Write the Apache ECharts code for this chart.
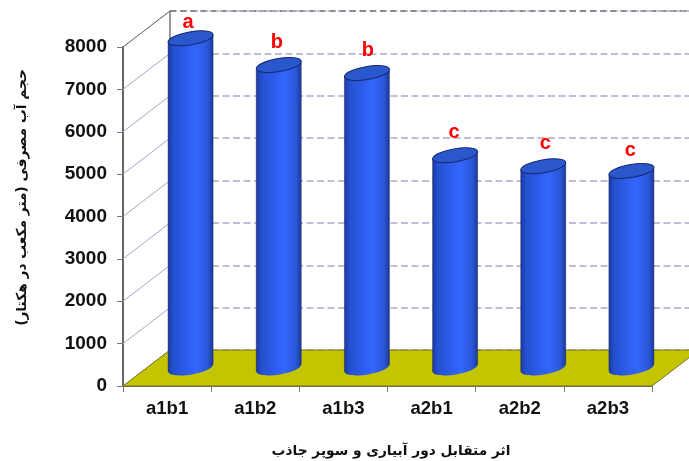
<!DOCTYPE html>
<html><head><meta charset="utf-8">
<style>html,body{margin:0;padding:0;background:#fff;overflow:hidden}#c{width:689px;height:461px}</style>
<script src="https://cdn.jsdelivr.net/npm/echarts@6/dist/echarts.min.js"></script></head>
<body><div id="c"></div>
<script>
const categories = ['a1b1','a1b2','a1b3','a2b1','a2b2','a2b3'];
const waterVolume = [7780,7150,6960,5020,4760,4650];
const letters = ['a','b','b','c','c','c'];
const yTicks = [0,1000,2000,3000,4000,5000,6000,7000,8000];
const yTitle = 'حجم آب مصرفی (متر مکعب در هکتار)';
const xTitle = 'اثر متقابل دور آبیاری و سوپر جاذب';

const DX = 47, DY = -36;
const FONT = '"Liberation Sans", Arial, sans-serif';
const TITLEFONT = '"DejaVu Sans", sans-serif';
const chart = echarts.init(document.getElementById('c'), null, {renderer:'canvas'});

const barGrad = () => new echarts.graphic.LinearGradient(0,0,1,0,[
  {offset:0,color:'#1c3a9c'},{offset:0.12,color:'#2550d0'},{offset:0.62,color:'#3366ff'},
  {offset:0.88,color:'#2a56d8'},{offset:1,color:'#1c3a98'}]);

function cylinder(params, api){
  const i = api.value(0), v = api.value(1);
  const top = api.coord([i, v]), base = api.coord([i, 0]);
  const cx = top[0] + DX/2, ty = top[1] + DY/2, by = base[1] + DY/2;
  const hw = 22.5, sl = 3.5, a = 22.8, b = 6.5, rot = 9.7*Math.PI/180;
  const liftY = [16,23,23,23,23,20][i], nudgeX = [-2.5,-2,1,-1,2,-1][i];
  return {type:'group', children:[
    {type:'ellipse', x:cx, y:by, rotation:rot, shape:{cx:0,cy:0,rx:a,ry:b},
      style:{fill:barGrad()}},
    {type:'polygon', shape:{points:[[cx-hw,ty+sl],[cx+hw,ty-sl],[cx+hw,by-sl],[cx-hw,by+sl]]},
      style:{fill:barGrad()}},
    {type:'line', shape:{x1:cx-hw,y1:ty+sl,x2:cx-hw,y2:by+sl}, style:{stroke:'rgba(20,30,90,.45)',lineWidth:1}},
    {type:'line', shape:{x1:cx+hw,y1:ty-sl,x2:cx+hw,y2:by-sl}, style:{stroke:'rgba(20,30,90,.45)',lineWidth:1}},
    {type:'ellipse', x:cx, y:ty, rotation:rot, shape:{cx:0,cy:0,rx:a,ry:b},
      style:{fill:'#2a58cc',stroke:'#14286e',lineWidth:1}},
    {type:'text', x:cx+nudgeX, y:ty-liftY, style:{text:letters[i],fill:'#ff0000',
      font:'bold 20px '+FONT,textAlign:'center',textVerticalAlign:'middle'}}
  ]};
}
function floor(params, api){
  const a = api.coord([0,0]);
  const w = api.size([1,0])[0]*categories.length;
  const x0 = a[0]-api.size([1,0])[0]/2, y0 = a[1];
  return {type:'polygon', shape:{points:[[x0,y0],[x0+DX,y0+DY],[x0+w+DX,y0+DY],[x0+w,y0]]},
    style:{fill:'#c4c400',stroke:'#77772a',lineWidth:1}};
}
function sideLine(params, api){
  const v = api.value(0);
  const p = api.coord([0,v]);
  const x0 = p[0]-api.size([1,0])[0]/2;
  const isTop = v === yTicks[yTicks.length-1];
  return {type:'line', shape:{x1:x0,y1:p[1],x2:x0+DX,y2:p[1]+DY},
    style:{stroke:isTop?'#555':'#a9a5cc',lineWidth:1}};
}
function backEdge(params, api){
  const p = api.coord([0,yTicks[yTicks.length-1]]), q = api.coord([0,0]);
  const x0 = p[0]-api.size([1,0])[0]/2+DX;
  const w = api.size([1,0])[0]*categories.length;
  return {type:'group',children:[
    {type:'line',shape:{x1:x0,y1:p[1]+DY,x2:x0,y2:q[1]+DY},style:{stroke:'#777',lineWidth:1.5}},
    {type:'line',shape:{x1:x0,y1:p[1]+DY,x2:x0+w,y2:p[1]+DY},style:{stroke:'#555',lineWidth:1,lineDash:[6,4]}}
  ]};
}

chart.setOption({
  animation:false,
  backgroundColor:'#fff',
  grid:[{left:123,top:47,width:529,height:339,outerBoundsMode:'none'},
        {left:123+DX,top:47+DY,width:529,height:339,outerBoundsMode:'none'}],
  xAxis:[
    {type:'category',data:categories,gridIndex:0,boundaryGap:true,
     axisLine:{lineStyle:{color:'#666',width:2}},
     axisTick:{show:true,length:6,alignWithLabel:false,lineStyle:{color:'#777',width:1}},
     axisLabel:{color:'#111',fontFamily:FONT,fontWeight:'bold',fontSize:18.5,margin:13,interval:0},
     name:xTitle,nameLocation:'middle',nameGap:58,
     nameTextStyle:{color:'#111',fontFamily:TITLEFONT,fontWeight:'bold',fontSize:13.75,padding:[0,0,0,7]}},
    {type:'category',data:categories,gridIndex:1,show:false}
  ],
  yAxis:[
    {type:'value',min:0,max:8000,interval:1000,gridIndex:0,
     axisLine:{show:true,lineStyle:{color:'#666',width:2}},
     axisTick:{show:true,length:6,lineStyle:{color:'#777',width:1}},
     splitLine:{show:false},
     axisLabel:{color:'#111',fontFamily:FONT,fontWeight:'bold',fontSize:19,margin:16,formatter:v=>String(v)},
     name:yTitle,nameLocation:'middle',nameGap:94,nameRotate:90,
     nameTextStyle:{color:'#111',fontFamily:TITLEFONT,fontWeight:'bold',fontSize:13.75,padding:[0,0,0,38]}},
    {type:'value',min:0,max:8000,interval:1000,gridIndex:1,
     axisLine:{show:false},axisTick:{show:false},axisLabel:{show:false},
     splitLine:{show:true,lineStyle:{color:'#aaa8cc',width:1.5,type:[7,3.5]}}}
  ],
  series:[
    {type:'custom',name:'edges',coordinateSystem:'cartesian2d',xAxisIndex:0,yAxisIndex:0,clip:false,z:1,
     data:[[0]],renderItem:backEdge,silent:true},
    {type:'custom',name:'side',coordinateSystem:'cartesian2d',xAxisIndex:0,yAxisIndex:0,clip:false,z:1,
     data:yTicks.map(v=>[v]),encode:{y:0},renderItem:sideLine,silent:true},
    {type:'custom',name:'floor',coordinateSystem:'cartesian2d',xAxisIndex:0,yAxisIndex:0,clip:false,z:2,
     data:[[0]],renderItem:floor,silent:true},
    {type:'custom',name:'volume',coordinateSystem:'cartesian2d',xAxisIndex:0,yAxisIndex:0,clip:false,z:3,
     data:waterVolume.map((v,i)=>[i,v]),encode:{x:0,y:1},renderItem:cylinder}
  ]
});
</script></body></html>
